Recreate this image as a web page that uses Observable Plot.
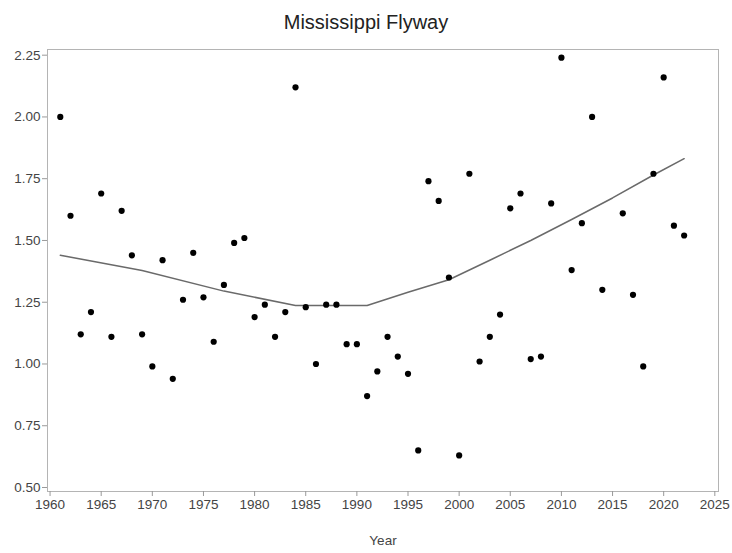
<!DOCTYPE html>
<html>
<head>
<meta charset="utf-8">
<script src="https://cdn.jsdelivr.net/npm/d3@7"></script>
<script src="https://cdn.jsdelivr.net/npm/@observablehq/plot@0.6"></script>
<style>
  html, body { margin: 0; padding: 0; background: #fff; }
  #title { height: 40px; line-height: 45px; text-align: center; font-family: "Liberation Sans", Arial, sans-serif; font-size: 20px; color: #222; width: 732px; }
</style>
</head>
<body>
<div id="title">Mississippi Flyway</div>
<div id="chart"></div>
<script>
const years = [1961,1962,1963,1964,1965,1966,1967,1968,1969,1970,1971,1972,1973,1974,1975,1976,1977,1978,1979,1980,1981,1982,1983,1984,1985,1986,1987,1988,1989,1990,1991,1992,1993,1994,1995,1996,1997,1998,1999,2000,2001,2002,2003,2004,2005,2006,2007,2008,2009,2010,2011,2012,2013,2014,2016,2017,2018,2019,2020,2021,2022];
const values = [2.00,1.60,1.12,1.21,1.69,1.11,1.62,1.44,1.12,0.99,1.42,0.94,1.26,1.45,1.27,1.09,1.32,1.49,1.51,1.19,1.24,1.11,1.21,2.12,1.23,1.00,1.24,1.24,1.08,1.08,0.87,0.97,1.11,1.03,0.96,0.65,1.74,1.66,1.35,0.63,1.77,1.01,1.11,1.20,1.63,1.69,1.02,1.03,1.65,2.24,1.38,1.57,2.00,1.30,1.61,1.28,0.99,1.77,2.16,1.56,1.52];
const trendYears = [1961,1969,1977,1984,1991,1995,1999,2003,2007,2011,2015,2019,2022];
const trendValues = [1.44,1.378,1.295,1.237,1.237,1.29,1.341,1.42,1.50,1.585,1.672,1.765,1.831];
const xTicks = [1960,1965,1970,1975,1980,1985,1990,1995,2000,2005,2010,2015,2020,2025];
const yTicks = [0.50,0.75,1.00,1.25,1.50,1.75,2.00,2.25];
const xLabel = "Year";

const points = years.map((y, i) => ({year: y, value: values[i]}));
const trend = trendYears.map((y, i) => ({year: y, value: trendValues[i]}));

const chart = Plot.plot({
  width: 732,
  height: 513,
  marginTop: 9,
  marginBottom: 62,
  marginLeft: 47,
  marginRight: 14,
  style: {fontFamily: "Liberation Sans, Arial, sans-serif", fontSize: "13.5px", background: "#fff"},
  x: {domain: [1959.75, 2025.36]},
  y: {domain: [0.4838, 2.273]},
  marks: [
    Plot.frame({stroke: "#b4b4b4"}),
    Plot.axisX({ticks: xTicks, tickSize: 5, tickPadding: 3, tickFormat: d => String(d), label: null, stroke: "#999", fill: "#444"}),
    Plot.axisY({ticks: yTicks, tickSize: 5, tickPadding: 2, tickFormat: d => d.toFixed(2), label: null, stroke: "#999", fill: "#444"}),
    Plot.line(trend, {x: "year", y: "value", stroke: "#6a6a6a", strokeWidth: 1.5}),
    Plot.dot(points, {x: "year", y: "value", r: 3.1, fill: "#000", stroke: "none"}),
    Plot.text([xLabel], {frameAnchor: "bottom", dy: 53, fill: "#444", fontSize: 13.5})
  ]
});
document.getElementById("chart").appendChild(chart);
</script>
</body>
</html>
